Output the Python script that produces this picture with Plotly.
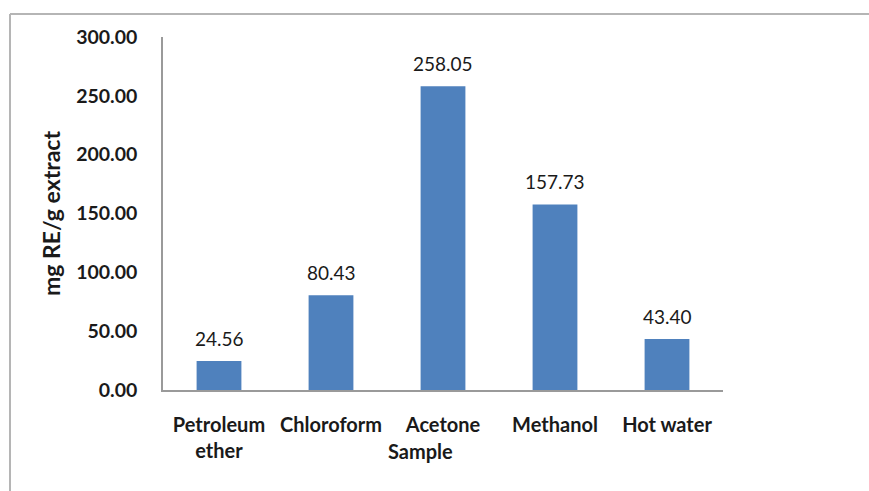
import plotly.graph_objects as go

categories = ["Petroleum<br>ether", "Chloroform", "Acetone", "Methanol", "Hot water"]
values = [24.56, 80.43, 258.05, 157.73, 43.40]
y_ticks = [0, 50, 100, 150, 200, 250, 300]

W, H = 869, 491
L, R, T, B = 163, 146, 37, 101
pw, ph = W - L - R, H - T - B

def px_x(p):
    return (p - L) / pw

def px_y(p):
    return (H - B - p) / ph

FONT = "Lato"
TXT = "#1a1a1a"
xfont = dict(family=FONT, size=20, color=TXT, weight="bold")
yfont = dict(family=FONT, size=19.5, color=TXT, weight="bold")

fig = go.Figure()
fig.add_trace(go.Bar(x=categories, y=values, marker=dict(color="#4F81BD", line=dict(width=0)),
                     width=0.4))

for c, v in zip(categories, values):
    fig.add_annotation(x=c, y=v, text=f"{v:.2f}", showarrow=False, yanchor="bottom",
                       yshift=9, font=dict(family=FONT, size=19, color=TXT))

fig.add_annotation(xref="paper", yref="paper", x=px_x(420), y=px_y(451), text="Sample",
                   showarrow=False, font=xfont, xanchor="center", yanchor="middle")

fig.add_shape(type="line", xref="paper", yref="paper", x0=px_x(10), x1=px_x(880),
              y0=px_y(14), y1=px_y(14), line=dict(color="#b5b5b5", width=2))
fig.add_shape(type="line", xref="paper", yref="paper", x0=px_x(10), x1=px_x(10),
              y0=px_y(14), y1=px_y(500), line=dict(color="#b5b5b5", width=2))

fig.update_layout(
    width=W, height=H, margin=dict(l=L, r=R, t=T, b=B),
    paper_bgcolor="white", plot_bgcolor="white", showlegend=False,
    xaxis=dict(showline=True, linecolor="#9a9a9a", linewidth=1.5, showgrid=False,
               ticks="", tickfont=xfont, ticklabelstandoff=16),
    yaxis=dict(range=[0, 300], tickvals=y_ticks, tickformat=".2f", showline=True,
               linecolor="#9a9a9a", linewidth=1.5, showgrid=False, zeroline=False,
               ticks="", tickfont=yfont, ticklabelstandoff=20,
               title=dict(text="mg RE/g extract",
                          font=dict(family=FONT, size=23, color=TXT, weight="bold"),
                          standoff=9)),
)

fig.write_html("out.html")
